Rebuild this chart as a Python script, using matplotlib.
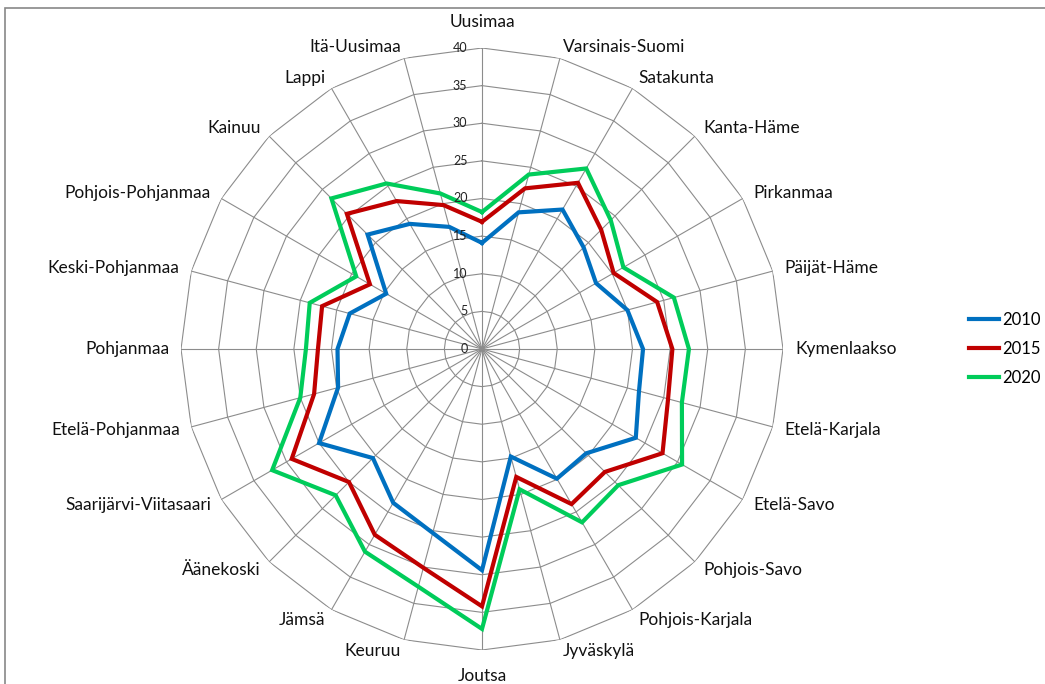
import numpy as np
import matplotlib.pyplot as plt
from matplotlib.patches import Rectangle

regions = ["Uusimaa", "Varsinais-Suomi", "Satakunta", "Kanta-Häme", "Pirkanmaa",
           "Päijät-Häme", "Kymenlaakso", "Etelä-Karjala", "Etelä-Savo", "Pohjois-Savo",
           "Pohjois-Karjala", "Jyväskylä", "Joutsa", "Keuruu", "Jämsä", "Äänekoski",
           "Saarijärvi-Viitasaari", "Etelä-Pohjanmaa", "Pohjanmaa", "Keski-Pohjanmaa",
           "Pohjois-Pohjanmaa", "Kainuu", "Lappi", "Itä-Uusimaa"]

v2010 = [14.1, 18.8, 21.4, 19.1, 17.5, 20.0, 21.4, 21.6, 23.6, 19.6, 19.9, 14.8,
         29.4, 25.3, 23.6, 20.5, 25.0, 19.8, 19.2, 18.2, 14.7, 21.5, 19.2, 16.8]
v2015 = [16.9, 22.1, 25.5, 22.4, 20.2, 24.1, 25.3, 25.6, 27.7, 23.1, 23.8, 17.6,
         34.2, 30.1, 28.5, 25.0, 29.2, 23.1, 21.8, 22.0, 17.2, 25.4, 22.7, 19.8]
v2020 = [18.2, 24.0, 27.7, 24.2, 21.7, 26.4, 27.5, 27.5, 30.7, 25.6, 26.6, 19.3,
         37.2, 32.7, 31.1, 27.5, 32.2, 25.0, 23.4, 23.7, 19.3, 28.3, 25.4, 21.4]

years = ["2010", "2015", "2020"]
colors = ["#0070C0", "#C00000", "#00CC5A"]
rings = [0, 5, 10, 15, 20, 25, 30, 35, 40]

plt.rcParams['font.family'] = ['Lato', 'DejaVu Sans']

n = len(regions)
theta = np.arange(n) * 2 * np.pi / n
theta_c = np.append(theta, theta[0])

fig = plt.figure(figsize=(10.45, 6.84), dpi=100)
ax = fig.add_axes([181 / 1045, 34 / 684, 602 / 1045, 602 / 684], projection='polar')
ax.set_theta_zero_location('N')
ax.set_theta_direction(-1)
ax.set_ylim(0, 40)
ax.grid(False)
ax.spines['polar'].set_visible(False)
ax.set_xticks([])
ax.set_yticks([])
ax.patch.set_alpha(0)

grid_c = "#8C8C8C"
for r in rings[1:]:
    ax.plot(theta_c, [r] * (n + 1), color=grid_c, lw=0.8, zorder=1)
for t in theta:
    ax.plot([t, t], [0, 40], color=grid_c, lw=0.8, zorder=1)

for vals, year, c in zip([v2010, v2015, v2020], years, colors):
    ax.plot(theta_c, vals + vals[:1], color=c, lw=3, label=year, zorder=3,
            solid_joinstyle='miter')

for r in rings:
    ax.annotate(str(r), xy=(0, r), xytext=(-10.5, 0), textcoords='offset points',
                ha='right', va='center', fontsize=9, color='#222222')

for t, name in zip(theta, regions):
    s, c = np.sin(t), np.cos(t)
    ha = 'center' if abs(s) < 0.01 else ('left' if s > 0 else 'right')
    dx, dy = 8.6 * s, 8.6 * c
    if abs(s) < 0.01:
        dy += 10 * np.sign(c)
    ax.annotate(name, xy=(t, 40), xytext=(dx, dy), textcoords='offset points',
                ha=ha, va='center', fontsize=12.5, color='#111111')

ax.legend(loc='center left', bbox_to_anchor=(962 / 1045, (684 - 349) / 684),
          bbox_transform=fig.transFigure,
          frameon=False, fontsize=12, handlelength=1.8, handletextpad=0.2,
          labelspacing=0.78, borderaxespad=0)

fig.patches.append(Rectangle((5 / 1045, -0.1), 1.2, (684 - 8) / 684 + 0.1,
                             transform=fig.transFigure, fill=False,
                             edgecolor='#888888', lw=1.2))

fig.savefig('out.png', dpi=100)
